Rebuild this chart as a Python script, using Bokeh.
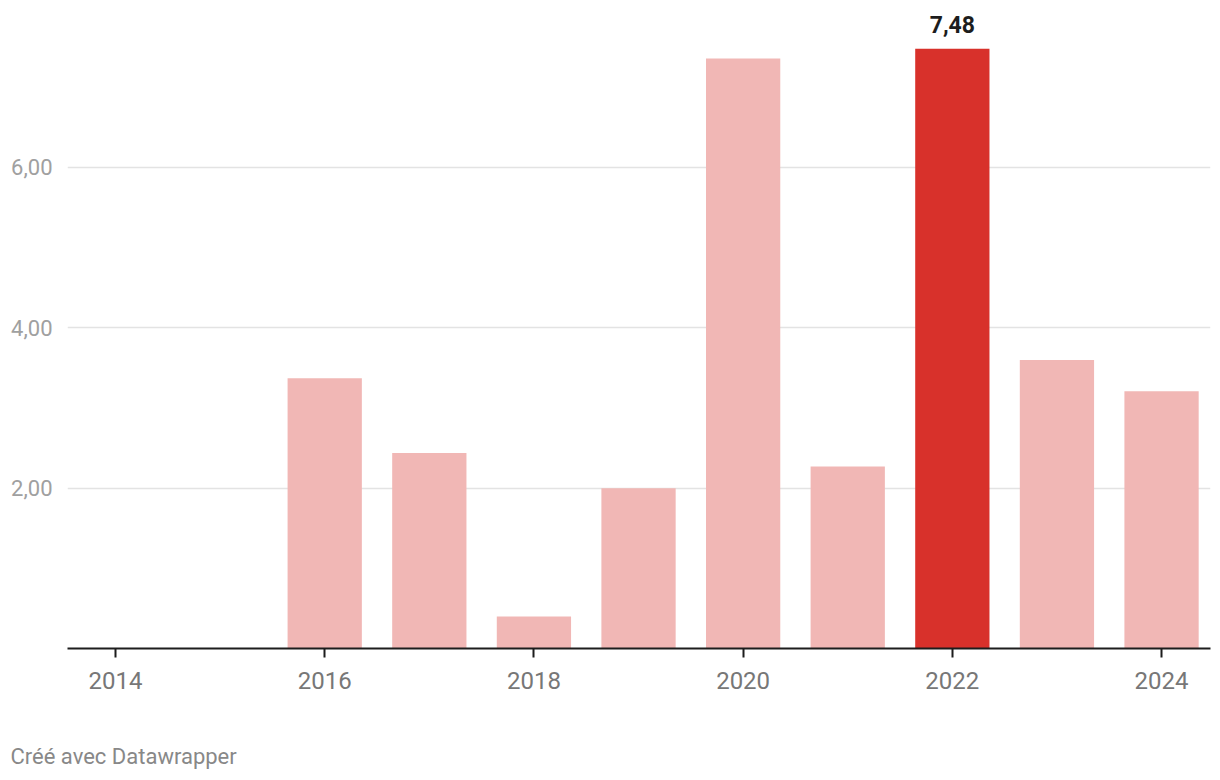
from bokeh.plotting import figure
from bokeh.models import ColumnDataSource, FixedTicker, LabelSet, Title, Range1d
from bokeh.core.properties import value
from bokeh.embed import file_html
from bokeh.resources import INLINE
import math

years = [2014, 2015, 2016, 2017, 2018, 2019, 2020, 2021, 2022, 2023, 2024]
values = [float("nan"), float("nan"), 3.37, 2.44, 0.40, 2.00, 7.36, 2.27, 7.48, 3.60, 3.21]
highlight_year = 2022
y_ticks = [2, 4, 6]
y_tick_labels = ["2,00", "4,00", "6,00"]
x_ticks = [2014, 2016, 2018, 2020, 2022, 2024]
credit = "Créé avec Datawrapper"

LIGHT = "#f1b7b5"
DARK = "#d8312b"

bx, bt, bc = [], [], []
for yr, v in zip(years, values):
    if v is None or (isinstance(v, float) and math.isnan(v)):
        continue
    bx.append(yr)
    bt.append(v)
    bc.append(DARK if yr == highlight_year else LIGHT)
src = ColumnDataSource(dict(x=bx, top=bt, color=bc))

lab_src = ColumnDataSource(dict(
    x=[yr for yr, v in zip(bx, bt) if yr == highlight_year],
    y=[v for yr, v in zip(bx, bt) if yr == highlight_year],
    t=[f"{v:.2f}".replace(".", ",") for yr, v in zip(bx, bt) if yr == highlight_year],
))

p = figure(width=1220, height=780, output_backend="svg", toolbar_location=None,
           x_range=Range1d(2013.541, 2024.468), y_range=Range1d(0, 7.958),
           min_border_left=67, min_border_right=10, min_border_top=10, min_border_bottom=132)
p.outline_line_color = None
p.background_fill_color = "white"
p.border_fill_color = "white"

p.vbar(x="x", top="top", bottom=0, width=0.71, color="color", source=src, line_color=None)

p.add_layout(LabelSet(x="x", y="y", text="t", source=lab_src, text_align="center",
                      text_baseline="alphabetic", y_offset=16, text_font=value("Roboto"),
                      text_font_style="bold", text_font_size="23px", text_color="#1d1d1d"))

# y axis
p.yaxis.ticker = FixedTicker(ticks=y_ticks)
p.yaxis.major_label_overrides = {t: l for t, l in zip(y_ticks, y_tick_labels)}
p.yaxis.axis_line_color = None
p.yaxis.major_tick_line_color = None
p.yaxis.minor_tick_line_color = None
p.yaxis.major_label_standoff = 9
p.yaxis.major_label_text_font = "Roboto"
p.yaxis.major_label_text_font_size = "22px"
p.yaxis.major_label_text_color = "#a0a0a0"
p.ygrid.ticker = FixedTicker(ticks=y_ticks)
p.ygrid.grid_line_color = "#e3e3e3"
p.ygrid.grid_line_width = 1.5
p.xgrid.grid_line_color = None

# x axis
p.xaxis.ticker = FixedTicker(ticks=x_ticks)
p.xaxis.axis_line_color = "#1d1d1d"
p.xaxis.axis_line_width = 2
p.xaxis.major_tick_line_color = "#1d1d1d"
p.xaxis.major_tick_line_width = 2
p.xaxis.major_tick_out = 9
p.xaxis.major_tick_in = 0
p.xaxis.minor_tick_line_color = None
p.xaxis.major_label_standoff = 14
p.xaxis.major_label_text_font = "Roboto"
p.xaxis.major_label_text_font_size = "24px"
p.xaxis.major_label_text_color = "#777777"
p.xaxis.axis_label = " "
p.xaxis.axis_label_text_font_size = "2px"
p.xaxis.axis_label_standoff = 34

p.add_layout(Title(text=credit, align="left", offset=-57, standoff=23,
                   text_font="Roboto", text_font_size="22px", text_font_style="normal",
                   text_color="#888888"), "below")

open("out.html", "w").write(file_html(p, INLINE))
